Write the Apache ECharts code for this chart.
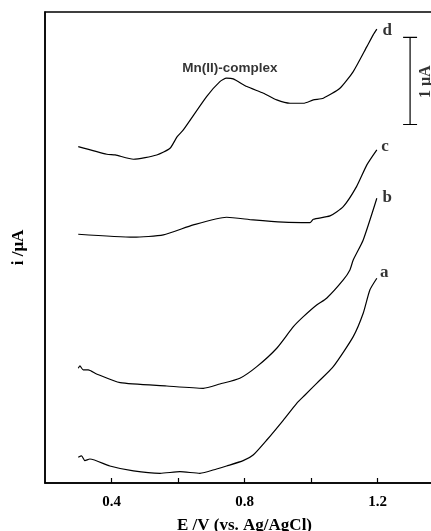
<!DOCTYPE html>
<html><head><meta charset="utf-8">
<script src="https://cdn.jsdelivr.net/npm/echarts@6/dist/echarts.min.js"></script>
<style>html,body{margin:0;padding:0;background:#fff}#c{width:431px;height:531px}</style>
</head><body><div id="c"></div>
<script>
// Potential (V vs Ag/AgCl) and current (µA, stacked offsets as drawn)
const curveD = [[0.300,3.857],[0.386,3.769],[0.411,3.761],[0.466,3.712],[0.536,3.761],[0.576,3.838],[0.597,3.968],[0.616,4.048],[0.686,4.430],[0.726,4.602],[0.746,4.641],[0.766,4.633],[0.807,4.545],[0.857,4.469],[0.897,4.392],[0.937,4.354],[0.977,4.354],[1.007,4.392],[1.037,4.412],[1.087,4.526],[1.127,4.717],[1.168,5.003],[1.187,5.138],[1.198,5.203]];
const curveC = [[0.300,2.852],[0.466,2.818],[0.556,2.844],[0.646,2.959],[0.746,3.047],[0.826,3.016],[0.917,2.990],[0.997,2.985],[1.007,3.024],[1.057,3.062],[1.097,3.169],[1.137,3.398],[1.168,3.647],[1.198,3.819]];
const curveB = [[0.300,1.315],[0.305,1.342],[0.315,1.296],[0.330,1.296],[0.355,1.250],[0.426,1.150],[0.566,1.112],[0.676,1.086],[0.726,1.135],[0.786,1.201],[0.837,1.334],[0.897,1.545],[0.947,1.792],[0.977,1.907],[1.017,2.041],[1.047,2.118],[1.097,2.328],[1.117,2.443],[1.127,2.557],[1.157,2.787],[1.198,3.265]];
const curveA = [[0.300,0.295],[0.310,0.310],[0.320,0.256],[0.335,0.275],[0.395,0.195],[0.466,0.138],[0.546,0.111],[0.606,0.130],[0.666,0.111],[0.716,0.161],[0.746,0.195],[0.796,0.256],[0.826,0.321],[0.867,0.493],[0.917,0.722],[0.957,0.914],[0.982,1.009],[1.017,1.143],[1.067,1.334],[1.127,1.678],[1.157,1.946],[1.177,2.213],[1.198,2.348]];
const curveNames = ['d','c','b','a'];
const curveLabelPos = [[1.229,5.183],[1.223,3.853],[1.229,3.268],[1.220,2.408]];
const peakLabel = 'Mn(II)-complex';
const peakLabelPos = [0.756, 4.759];
const scaleBarX = 1.298;
const scaleBarY = [4.11, 5.11];
const scaleBarCap = [1.277, 1.319];
const scaleBarText = '1 μA';
const scaleBarTextPos = [1.345, 4.60];
const xTickLabels = ['0.4','0.8','1.2'];
const xTitle = 'E /V (vs. Ag/AgCl)';
const yTitle = 'i /μA';

const chart = echarts.init(document.getElementById('c'), null, {renderer:'canvas'});
const lineStyle = {color:'#000', width:1.2};
const mk = (d) => ({type:'line', data:d, showSymbol:false, symbol:'none', smooth:0.2, lineStyle, silent:true, z:3});
const serif = '"Liberation Serif","Times New Roman",serif';
const txt = (pos, text, font, size, rot) => ({type:'scatter', data:[pos], symbolSize:0, silent:true,
  label:{show:true, position:'inside', rotate:rot||0, formatter:text, color:'#000', fontFamily:font, fontWeight:'bold', fontSize:size}});
const series = [mk(curveD), mk(curveC), mk(curveB), mk(curveA)];
curveNames.forEach((n,i)=>series.push(txt(curveLabelPos[i], n, serif, 17)));
series.push(txt(peakLabelPos, peakLabel, '"Liberation Sans",Arial,sans-serif', 13.5));
series.push({type:'line', data:[[scaleBarX,scaleBarY[0]],[scaleBarX,scaleBarY[1]]], showSymbol:false, symbol:'none', lineStyle, silent:true});
scaleBarY.forEach(y=>series.push({type:'line', data:[[scaleBarCap[0],y],[scaleBarCap[1],y]], showSymbol:false, symbol:'none', lineStyle, silent:true}));
series.push(txt(scaleBarTextPos, scaleBarText, serif, 16, 90));

chart.setOption({
  animation:false,
  grid:{left:45, top:12, right:-13, bottom:48, containLabel:false, outerBoundsMode:'none',
    show:true, borderColor:'#000', borderWidth:1.5, backgroundColor:'transparent'},
  xAxis:{
    type:'value', min:0.2, max:1.4, interval:0.2,
    axisLine:{show:true, onZero:false, lineStyle:{color:'#000', width:1.5}},
    axisTick:{show:true, inside:true, length:5, lineStyle:{color:'#000', width:1.2}},
    splitLine:{show:false},
    axisLabel:{margin:12, color:'#000', fontFamily:serif, fontWeight:'bold', fontSize:15,
      showMinLabel:false, showMaxLabel:false,
      formatter:(v)=>{const s=v.toFixed(1); return xTickLabels.includes(s)?s:'';}},
    name:xTitle, nameLocation:'middle', nameGap:34,
    nameTextStyle:{color:'#000', fontFamily:serif, fontWeight:'bold', fontSize:17}
  },
  yAxis:{
    type:'value', min:0, max:5.4,
    axisLine:{show:true, onZero:false, lineStyle:{color:'#000', width:1.5}},
    axisTick:{show:false}, axisLabel:{show:false}, splitLine:{show:false},
    name:yTitle, nameLocation:'middle', nameGap:18, nameRotate:90,
    nameTextStyle:{color:'#000', fontFamily:serif, fontWeight:'bold', fontSize:17}
  },
  series
});
</script></body></html>
